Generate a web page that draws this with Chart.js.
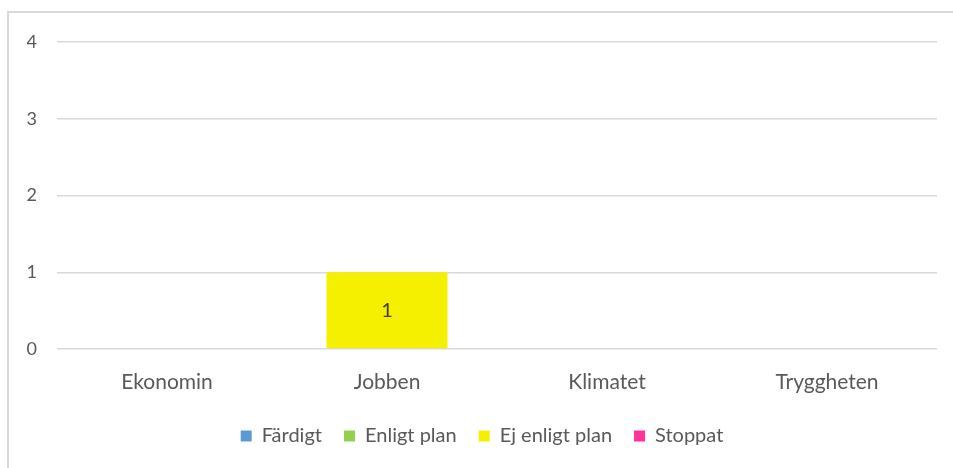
<!DOCTYPE html>
<html>
<head>
<meta charset="utf-8">
<script src="https://cdn.jsdelivr.net/npm/chart.js@4"></script>
<style>
  body { margin: 0; background: #fff; }
  #frame { position: absolute; left: 7px; top: 11px; width: 970px; height: 480px; border: 2px solid #d9d9d9; }
  #wrap { position: absolute; left: 0; top: 0; width: 953px; height: 468px; }
</style>
</head>
<body>
<div id="frame"></div>
<div id="wrap"><canvas id="chart"></canvas></div>
<script>
var categories = ["Ekonomin", "Jobben", "Klimatet", "Tryggheten"];
var fardigt = [0, 0, 0, 0];
var enligtPlan = [0, 0, 0, 0];
var ejEnligtPlan = [0, 1, 0, 0];
var stoppat = [0, 0, 0, 0];
var yTicks = [0, 1, 2, 3, 4];

var textColor = "#595959";
var fontFamily = "Lato, 'Liberation Sans', sans-serif";

// writes the value in the middle of each non-zero bar
var valueLabels = {
  id: "valueLabels",
  afterDatasetsDraw: function (chart) {
    var ctx = chart.ctx;
    ctx.save();
    ctx.font = "20px " + fontFamily;
    ctx.fillStyle = "#404040";
    ctx.textAlign = "center";
    ctx.textBaseline = "middle";
    chart.data.datasets.forEach(function (ds, i) {
      chart.getDatasetMeta(i).data.forEach(function (bar, j) {
        if (!ds.data[j]) return;
        ctx.fillText(ds.data[j], bar.x, (bar.y + bar.base) / 2);
      });
    });
    ctx.restore();
  }
};

var ctx = document.getElementById("chart").getContext("2d");
var myChart = new Chart(ctx, {
  type: "bar",
  data: {
    labels: categories,
    datasets: [
      { label: "Färdigt", data: fardigt, backgroundColor: "#5b9bd5", borderWidth: 0 },
      { label: "Enligt plan", data: enligtPlan, backgroundColor: "#92d050", borderWidth: 0 },
      { label: "Ej enligt plan", data: ejEnligtPlan, backgroundColor: "#f5f000", borderWidth: 0 },
      { label: "Stoppat", data: stoppat, backgroundColor: "#ff3399", borderWidth: 0 }
    ]
  },
  options: {
    responsive: true,
    maintainAspectRatio: false,
    animation: false,
    datasets: {
      bar: { categoryPercentage: 0.55, barPercentage: 1 }
    },
    layout: {
      padding: { left: 27, right: 16, top: 42, bottom: 12 }
    },
    plugins: {
      tooltip: { enabled: false },
      legend: {
        position: "bottom",
        labels: {
          boxWidth: 11,
          boxHeight: 11,
          padding: 22,
          color: textColor,
          font: { family: fontFamily, size: 20 }
        }
      }
    },
    scales: {
      x: {
        stacked: true,
        grid: { display: false },
        border: { display: false },
        ticks: { color: textColor, padding: 13, font: { family: fontFamily, size: 21 } },
        afterFit: function (scale) { scale.height = 55; }
      },
      y: {
        stacked: true,
        min: yTicks[0],
        max: yTicks[yTicks.length - 1],
        grid: { color: "#d9d9d9", lineWidth: 1.5, drawTicks: false },
        border: { display: false },
        ticks: {
          stepSize: 1,
          padding: 20,
          color: textColor,
          font: { family: fontFamily, size: 18 }
        },
        afterFit: function (scale) { scale.width = 30; }
      }
    }
  },
  plugins: [valueLabels]
});
</script>
</body>
</html>
